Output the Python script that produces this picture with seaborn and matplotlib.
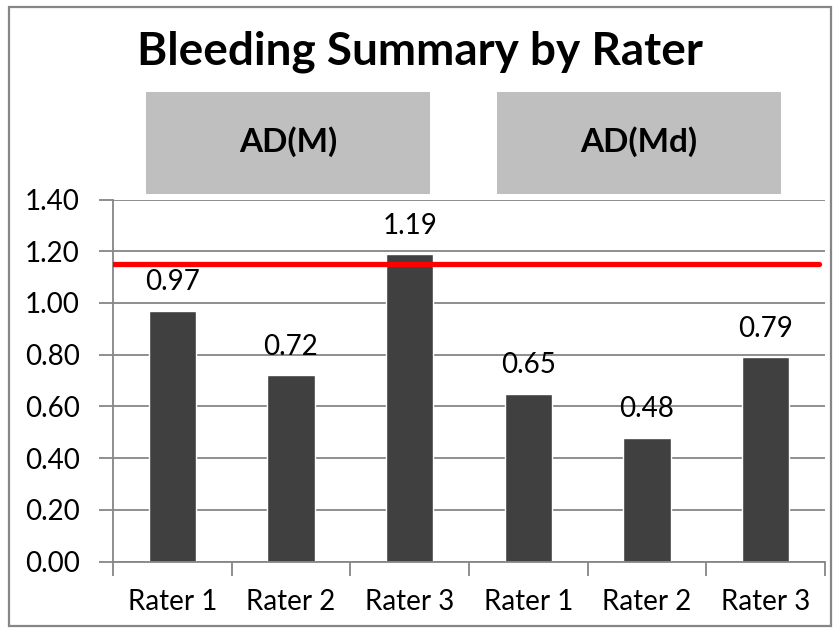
import matplotlib
matplotlib.use("Agg")
import matplotlib.pyplot as plt
from matplotlib.patches import Rectangle
import seaborn as sns
import pandas as pd

# Bleeding scores per rater, grouped by method
groups = ["AD(M)", "AD(M)", "AD(M)", "AD(Md)", "AD(Md)", "AD(Md)"]
raters = ["Rater 1", "Rater 2", "Rater 3", "Rater 1", "Rater 2", "Rater 3"]
scores = [0.97, 0.72, 1.19, 0.65, 0.48, 0.79]
group_names = ["AD(M)", "AD(Md)"]
threshold = 1.15
title = "Bleeding Summary by Rater"

df = pd.DataFrame({"group": groups, "rater": raters, "score": scores})
df["key"] = df["group"] + " " + df["rater"]

sns.set_theme(style="white")
plt.rcParams["font.family"] = ["Lato", "DejaVu Sans"]
plt.rcParams["text.color"] = "black"

W, H = 840, 632
fig = plt.figure(figsize=(W / 100, H / 100), dpi=100)

def fx(px):
    return px / W

def fy(py):
    return 1 - py / H

# outer chart frame
fig.patches.append(Rectangle((fx(9), fy(626)), fx(822), 619 / H, transform=fig.transFigure,
                             fill=False, edgecolor="#868686", linewidth=1.6))

ax = fig.add_axes([fx(113), fy(561.7), fx(825 - 113), (561.7 - 199.5) / H])
sns.barplot(data=df, x="key", y="score", order=list(df["key"]), color="#404040",
            saturation=1, width=0.4, ax=ax, errorbar=None)

ax.set_ylim(0, 1.4)
ax.set_xlim(-0.5, len(scores) - 0.5)
ax.set_yticks([i * 0.2 for i in range(8)])
ax.set_yticklabels([f"{i * 0.2:.2f}" for i in range(8)], fontsize=20, color="black")
ax.yaxis.grid(True, color="#868686", linewidth=1.3)
ax.set_axisbelow(True)

# category boundaries as ticks, rater names centred between them
ax.set_xticks([i - 0.5 for i in range(len(scores) + 1)])
ax.set_xticklabels([])
ax.set_xticks(range(len(scores)), minor=True)
ax.set_xticklabels(raters, minor=True, fontsize=20, color="black")
ax.tick_params(axis="x", which="major", length=10, width=1.3, color="#868686", direction="out", bottom=True)
ax.tick_params(axis="x", which="minor", length=0, pad=20)
ax.tick_params(axis="y", length=10, width=1.3, color="#868686", direction="out", left=True, pad=14)
ax.set_xlabel("")
ax.set_ylabel("")
for s in ["top", "right"]:
    ax.spines[s].set_visible(False)
for s in ["left", "bottom"]:
    ax.spines[s].set_color("#868686")
    ax.spines[s].set_linewidth(1.3)

ax.axhline(threshold, xmin=0, xmax=(819 - 113) / (825 - 113), color="#FF0000", linewidth=3.8, zorder=3)

for c in ax.containers:
    ax.bar_label(c, labels=[f"{v:.2f}" for v in scores], padding=11, fontsize=20, color="black")

# title and group header boxes
fig.text(0.5, fy(52), title, ha="center", va="center", fontsize=33, fontweight="bold")
boxes = [(146, 430), (497, 781)]
for (x0, x1), name in zip(boxes, group_names):
    fig.patches.append(Rectangle((fx(x0), fy(194)), fx(x1 - x0), (194 - 91.5) / H,
                                 transform=fig.transFigure, facecolor="#BFBFBF", edgecolor="none"))
    fig.text(fx((x0 + x1) / 2), fy(142), name, ha="center", va="center", fontsize=24, fontweight="bold")

fig.savefig("out.png", dpi=100)
